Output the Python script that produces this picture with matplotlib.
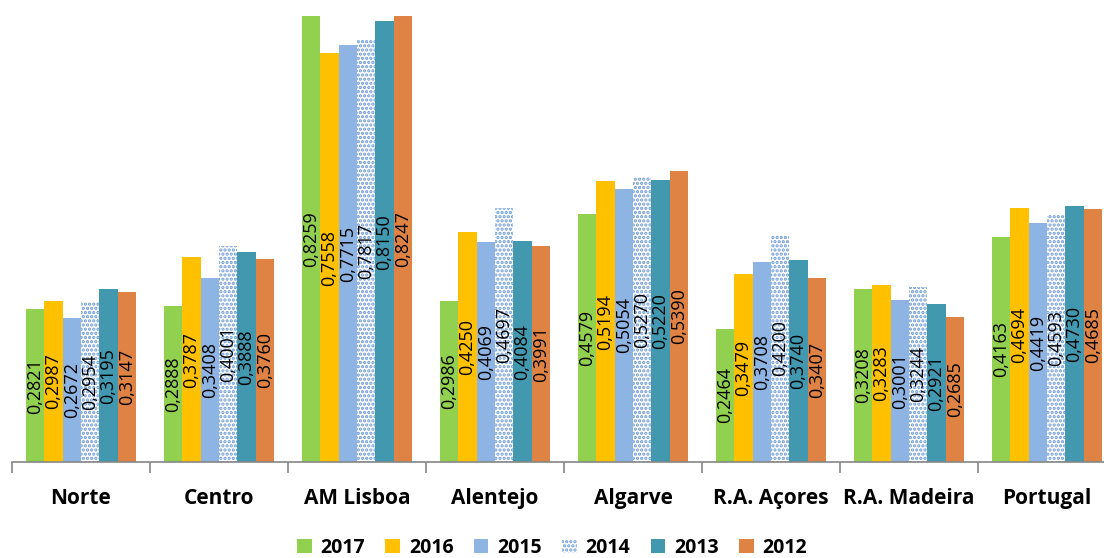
import matplotlib
matplotlib.use("Agg")
import matplotlib.pyplot as plt
import numpy as np
from matplotlib.patches import Patch

plt.rcParams['font.family'] = ['Open Sans', 'DejaVu Sans']
plt.rcParams['hatch.linewidth'] = 1.6

regions = ["Norte", "Centro", "AM Lisboa", "Alentejo", "Algarve",
           "R.A. Açores", "R.A. Madeira", "Portugal"]
years = ["2017", "2016", "2015", "2014", "2013", "2012"]

v2017 = [0.2821, 0.2888, 0.8259, 0.2986, 0.4579, 0.2464, 0.3208, 0.4163]
v2016 = [0.2987, 0.3787, 0.7558, 0.4250, 0.5194, 0.3479, 0.3283, 0.4694]
v2015 = [0.2672, 0.3408, 0.7715, 0.4069, 0.5054, 0.3708, 0.3001, 0.4419]
v2014 = [0.2954, 0.4001, 0.7817, 0.4697, 0.5270, 0.4200, 0.3244, 0.4593]
v2013 = [0.3195, 0.3888, 0.8150, 0.4084, 0.5220, 0.3740, 0.2921, 0.4730]
v2012 = [0.3147, 0.3760, 0.8247, 0.3991, 0.5390, 0.3407, 0.2685, 0.4685]
series = [v2017, v2016, v2015, v2014, v2013, v2012]

colors = ["#92D050", "#FFC000", "#8EB4E3", "#FFFFFF", "#4198AF", "#DE8344"]
dot_color = "#6E9BD8"

fig = plt.figure(figsize=(11.04, 5.58), dpi=100)
ax = fig.add_axes([12 / 1104, 96 / 558, 1104 / 1104, 446 / 558])

n = len(series)
width = 0.8 / n
x = np.arange(len(regions)) + 0.5

for k, (vals, col) in enumerate(zip(series, colors)):
    pos = x - 0.4 + width * (k + 0.5)
    if years[k] == "2014":
        ax.bar(pos, vals, width, color="white", edgecolor=dot_color,
               linewidth=0, hatch="....", zorder=2)
    else:
        ax.bar(pos, vals, width, color=col, linewidth=0, zorder=2)
    for p, v in zip(pos, vals):
        ax.text(p, v / 2, f"{v:.4f}".replace(".", ","), rotation=90,
                ha="center", va="center", fontsize=13, color="black",
                zorder=3)

ax.set_xlim(0, len(regions))
ax.set_ylim(0, 0.825)

for s in ["top", "right", "left"]:
    ax.spines[s].set_visible(False)
ax.spines["bottom"].set_color("#868686")
ax.spines["bottom"].set_linewidth(1.2)
ax.set_yticks([])

ax.set_xticks(np.arange(len(regions) + 1))
ax.set_xticklabels([])
ax.tick_params(axis="x", which="major", length=8, width=1.2, color="#868686")
ax.set_xticks(x, minor=True)
ax.set_xticklabels(regions, minor=True, fontsize=15, fontweight="bold")
ax.tick_params(axis="x", which="minor", length=0, pad=19)

handles = []
for y, col in zip(years, colors):
    if y == "2014":
        handles.append(Patch(facecolor="white", edgecolor=dot_color,
                             linewidth=0, hatch="....", label=y))
    else:
        handles.append(Patch(facecolor=col, linewidth=0, label=y))
fig.legend(handles=handles, loc="center", bbox_to_anchor=(0.5, 10 / 558),
           ncol=6, frameon=False, prop={"size": 14, "weight": "bold"},
           handlelength=0.75, handleheight=0.75, handletextpad=0.45,
           columnspacing=1.05)

fig.savefig("out.png", dpi=100)
